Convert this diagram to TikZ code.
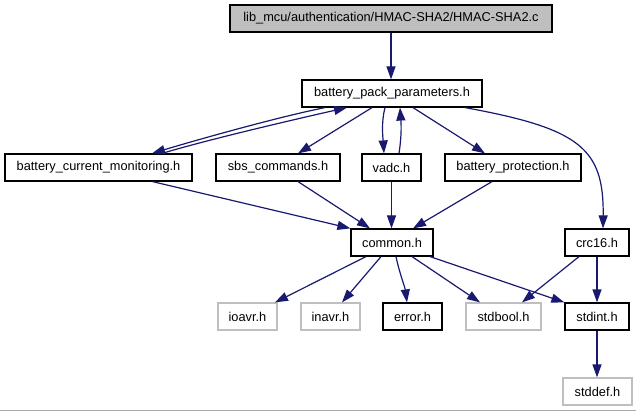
\documentclass[tikz,border=0pt]{standalone}
\usepackage{fontspec}
\setmainfont{Liberation Sans}
\usetikzlibrary{arrows.meta}
\definecolor{edgec}{RGB}{25,25,112}
\definecolor{grayb}{RGB}{191,191,191}
\definecolor{frameg}{RGB}{170,170,170}
\begin{document}
\begin{tikzpicture}[x=1pt,y=-1pt,
 box/.style={draw=black,line width=1.2pt,minimum height=27pt,inner sep=0pt,font=\fontsize{12.8}{14}\selectfont},
 gbox/.style={box,draw=grayb},
 edge/.style={draw=edgec,line width=1.2pt,-{Triangle[length=13pt,width=9pt]}}]
\fill[white] (0,0) rectangle (636,411);
\useasboundingbox (0,0) rectangle (636,411);
\draw[frameg,line width=1pt] (0,410) -- (636,410);

\node[box,fill=grayb,minimum width=322pt] (hmac) at (391,18.5) {lib\_mcu/authentication/HMAC-SHA2/HMAC-SHA2.c};
\node[box,minimum width=180pt] (bpp) at (392,93.5) {battery\_pack\_parameters.h};
\node[box,minimum width=187pt] (bcm) at (98.5,167.5) {battery\_current\_monitoring.h};
\node[box,minimum width=124pt] (sbs) at (278,167.5) {sbs\_commands.h};
\node[box,minimum width=59pt] (vadc) at (391.5,167.5) {vadc.h};
\node[box,minimum width=136pt] (bprot) at (513,167.5) {battery\_protection.h};
\node[box,minimum width=82pt] (common) at (392,242.5) {common.h};
\node[box,minimum width=64pt] (crc) at (597,242.5) {crc16.h};
\node[gbox,minimum width=59pt] (ioavr) at (247.5,316.5) {ioavr.h};
\node[gbox,minimum width=59pt] (inavr) at (330.5,316.5) {inavr.h};
\node[box,minimum width=59pt] (error) at (412.5,316.5) {error.h};
\node[gbox,minimum width=75pt] (stdbool) at (503.5,316.5) {stdbool.h};
\node[box,minimum width=64pt] (stdint) at (597,316.5) {stdint.h};
\node[gbox,minimum width=69pt] (stddef) at (597.5,391.5) {stddef.h};

\draw[edge] (hmac.south) -- (hmac.south |- bpp.north);
\draw[edge] ([xshift=-67pt]bpp.south) .. controls +(-45,9) and +(50,-15) .. ([xshift=53.5pt]bcm.north);
\draw[edge] ([xshift=63.5pt]bcm.north) .. controls +(50,-15) and +(-40,9) .. ([xshift=-45pt]bpp.south);
\draw[edge] ([xshift=-20pt]bpp.south) -- ([xshift=20pt]sbs.north);
\draw[edge] ([xshift=-7pt]bpp.south) .. controls +(-4,15) and +(-1,-15) .. ([xshift=-7.5pt]vadc.north);
\draw[edge] ([xshift=7.5pt]vadc.north) .. controls +(3,-20) and +(1,15) .. ([xshift=8pt]bpp.south);
\draw[edge] ([xshift=21pt]bpp.south) -- ([xshift=-28pt]bprot.north);
\draw[edge] ([xshift=73pt]bpp.south) .. controls +(115,21) and +(1,-80) .. ([xshift=6pt]crc.north);

\draw[edge] ([xshift=54pt]bcm.south) -- (common.north west);
\draw[edge] ([xshift=20pt]sbs.south) -- ([xshift=-22pt]common.north);
\draw[edge] (vadc.south) -- (vadc.south |- common.north);
\draw[edge] ([xshift=-21pt]bprot.south) -- ([xshift=21pt]common.north);

\draw[edge] ([xshift=-26pt]common.south) -- ([xshift=27.5pt]ioavr.north);
\draw[edge] ([xshift=-11pt]common.south) -- ([xshift=11.5pt]inavr.north);
\draw[edge] ([xshift=4pt]common.south) .. controls +(3,15) and +(-2,-15) .. ([xshift=-5.5pt]error.north);
\draw[edge] ([xshift=20pt]common.south) -- ([xshift=-23.5pt]stdbool.north);
\draw[edge] ([xshift=38pt]common.south) -- (stdint.north west);
\draw[edge] ([xshift=-18pt]crc.south) -- ([xshift=18.5pt]stdbool.north);
\draw[edge] (crc.south) -- (stdint.north);
\draw[edge] (stdint.south) -- (stdint.south |- stddef.north);
\end{tikzpicture}
\end{document}
